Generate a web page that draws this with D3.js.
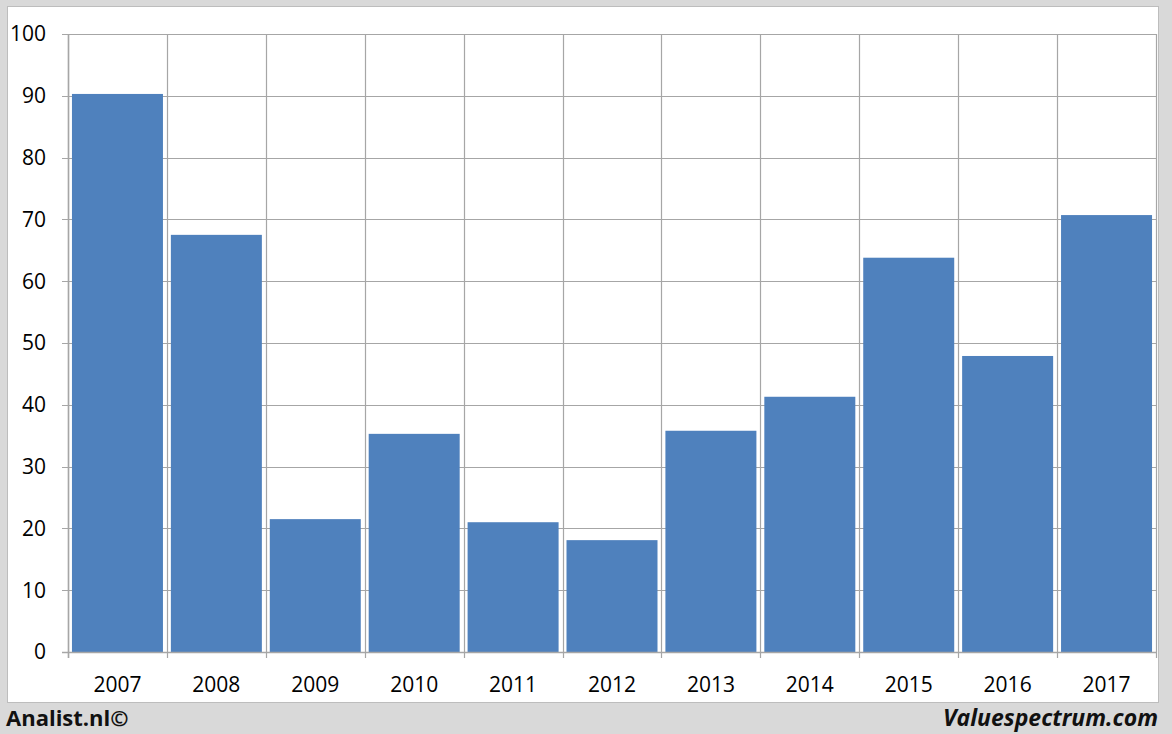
<!DOCTYPE html>
<html><head><meta charset="utf-8">
<script src="https://cdn.jsdelivr.net/npm/d3@7"></script>
<style>body{margin:0;background:#d9d9d9;}svg{display:block;}</style>
</head><body>
<svg id="c" width="1172" height="734"></svg>
<script>
const categories = ["2007","2008","2009","2010","2011","2012","2013","2014","2015","2016","2017"];
const values = [90.3, 67.5, 21.5, 35.3, 21.0, 18.1, 35.8, 41.3, 63.8, 47.9, 70.7];
const yTicks = [0,10,20,30,40,50,60,70,80,90,100];

const svg = d3.select("#c");
const font = "'Open Sans', 'Noto Sans', sans-serif";
svg.append("rect").attr("x",0).attr("y",0).attr("width",1172).attr("height",734).attr("fill","#d9d9d9");
svg.append("rect").attr("x",7.5).attr("y",6.5).attr("width",1151).attr("height",696).attr("fill","#fff").attr("stroke","#bdbdbd");

const L=68, R=1156, T=34, B=652;
const x = d3.scaleBand().domain(categories).range([L,R]).paddingInner(0.08).paddingOuter(0.04);
const y = d3.scaleLinear().domain([0,100]).range([B,T]);
const g = svg.append("g");
// horizontal grid
g.selectAll("line.h").data(yTicks).join("line")
  .attr("x1",L-6).attr("x2",R).attr("y1",d=>Math.round(y(d))+0.5).attr("y2",d=>Math.round(y(d))+0.5)
  .attr("stroke","#a6a6a6").attr("stroke-width",1.2);
// vertical grid at category boundaries
const bounds = d3.range(categories.length+1).map(i=>L+i*(R-L)/categories.length);
g.selectAll("line.v").data(bounds).join("line")
  .attr("x1",d=>Math.round(d)+0.5).attr("x2",d=>Math.round(d)+0.5).attr("y1",T).attr("y2",B+6)
  .attr("stroke","#a6a6a6").attr("stroke-width",1.2);
// bars
g.selectAll("rect.bar").data(values).join("rect")
  .attr("x",(d,i)=>x(categories[i])).attr("width",x.bandwidth())
  .attr("y",d=>y(d)).attr("height",d=>B-y(d)).attr("fill","#4f81bd");
// axis lines
g.append("line").attr("x1",L+0.5).attr("x2",L+0.5).attr("y1",T).attr("y2",B+6).attr("stroke","#a6a6a6").attr("stroke-width",1.5);
g.append("line").attr("x1",L-6).attr("x2",R).attr("y1",B+0.5).attr("y2",B+0.5).attr("stroke","#a6a6a6").attr("stroke-width",1.5);
// y labels
g.selectAll("text.y").data(yTicks).join("text")
  .attr("x",46).attr("y",d=>y(d)).attr("dy","0.35em").attr("text-anchor","end")
  .attr("font-family",font).attr("font-size",21).attr("fill","#000").text(d=>d);
// x labels
g.selectAll("text.x").data(categories).join("text")
  .attr("x",(d,i)=>(bounds[i]+bounds[i+1])/2).attr("y",685).attr("dy","0.35em").attr("text-anchor","middle")
  .attr("font-family",font).attr("font-size",21).attr("fill","#000").text(d=>d);
// footer
svg.append("text").attr("x",6).attr("y",726).attr("font-family",font).attr("font-weight","bold")
  .attr("font-size",22).attr("fill","#111").text("Analist.nl©");
svg.append("text").attr("x",1158).attr("y",726).attr("text-anchor","end").attr("font-family",font).attr("font-weight","bold").attr("font-style","italic")
  .attr("font-size",23).attr("fill","#111").text("Valuespectrum.com");
</script>
</body></html>
